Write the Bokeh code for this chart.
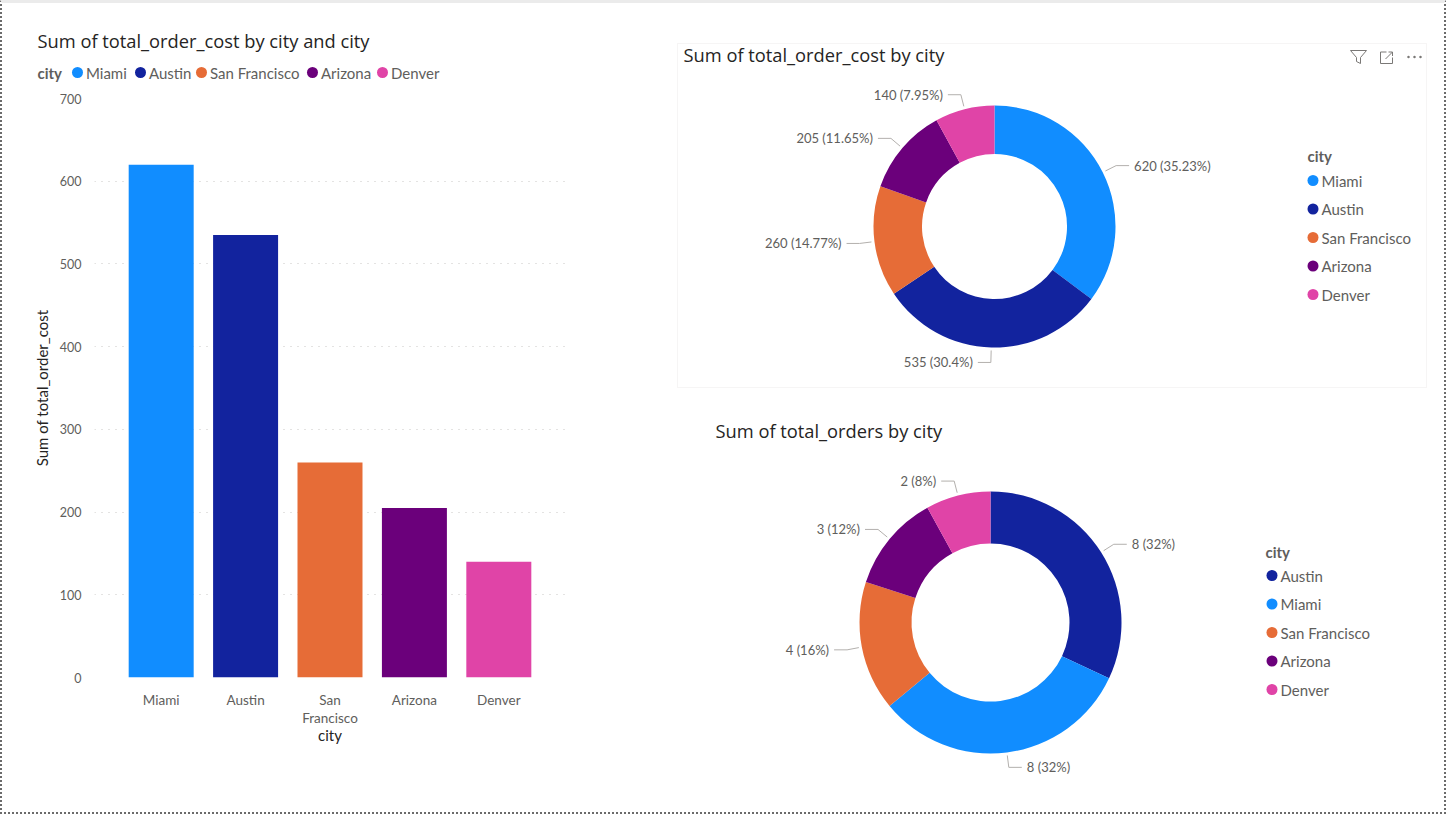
import math
from bokeh.plotting import figure
from bokeh.layouts import row, column
from bokeh.models import FactorRange, Range1d, ColumnDataSource, FixedTicker, BoxAnnotation
from bokeh.core.properties import value
from bokeh.embed import file_html
from bokeh.resources import INLINE

# ---------------- data ----------------
cities = ["Miami", "Austin", "San Francisco", "Arizona", "Denver"]
bar_tick_labels = ["Miami", "Austin", "San\nFrancisco", "Arizona", "Denver"]
order_cost = [620, 535, 260, 205, 140]
orders_cities = ["Austin", "Miami", "San Francisco", "Arizona", "Denver"]
orders = [8, 8, 4, 3, 2]
y_ticks = [0, 100, 200, 300, 400, 500, 600, 700]
city_colors = {"Miami": "#118DFF", "Austin": "#12239E", "San Francisco": "#E66C37",
               "Arizona": "#6B007B", "Denver": "#E044A7"}

# ---------------- style ----------------
TITLE_FONT = value("Open Sans")
BODY_FONT_NAME = "Lato"
BODY_FONT = value(BODY_FONT_NAME)
TITLE_SIZE = "18.3px"
DARK = "#252423"
GREY = "#605E5C"
LEADER = "#B3B0AD"
GRID = "#C8C6C4"

OX, OY = 2, 3          # page origin of content (inside border)
LW, RW = 640, 802
HEAD_H = 85
BAR_H = 724
TR_H = 397
BR_H = 412
FL, FR, FT, FB = 94, 565, 98, 677   # bar frame on the page


def canvas(w, h, x0, x1, y0, y1):
    p = figure(width=w, height=h, x_range=Range1d(x0, x1), y_range=Range1d(y0, y1),
               x_axis_type=None, y_axis_type=None, output_backend="svg",
               toolbar_location=None, min_border=0)
    p.min_border_left = p.min_border_right = p.min_border_top = p.min_border_bottom = 0
    p.outline_line_color = None
    p.background_fill_color = "white"
    p.border_fill_color = "white"
    return p


def legend_column(p, names, tx, ty, x_dot, y_first, step, conv):
    x, y = conv(tx, ty)
    p.text(x=[x], y=[y], text=["city"], text_font=BODY_FONT, text_font_size="15px",
           text_font_style="bold", text_color=GREY, text_baseline="middle", text_align="left")
    xs, ys, cs, txs = [], [], [], []
    for i, n in enumerate(names):
        dx, dy = conv(x_dot, y_first + i * step)
        xs.append(dx); ys.append(dy); cs.append(city_colors[n]); txs.append(dx + 8.5)
    p.scatter(x=xs, y=ys, size=11, marker="circle", fill_color=cs, line_color=None)
    p.text(x=txs, y=ys, text=list(names), text_font=BODY_FONT, text_font_size="15px",
           text_color=GREY, text_baseline="middle", text_align="left")


def donut(p, names, vals, R, r):
    total = float(sum(vals))
    starts, ends, mids, cols = [], [], [], []
    cum = 0.0
    for v, n in zip(vals, names):
        f0 = cum / total
        cum += v
        f1 = cum / total
        starts.append(math.pi / 2 - 2 * math.pi * f1)
        ends.append(math.pi / 2 - 2 * math.pi * f0)
        mids.append(2 * math.pi * (f0 + f1) / 2)
        cols.append(city_colors[n])
    src = ColumnDataSource(dict(start=starts, end=ends, color=cols, city=list(names)))
    p.annular_wedge(x=0, y=0, inner_radius=r, outer_radius=R, start_angle="start",
                    end_angle="end", direction="anticlock", fill_color="color",
                    line_color=None, source=src)
    lxs, lys, tx, ty, tt, ta = [], [], [], [], [], []
    for v, m in zip(vals, mids):
        sx, sy = math.sin(m), math.cos(m)
        sign = 1 if sx >= 0 else -1
        x0, y0 = (R + 3) * sx, (R + 3) * sy
        x1, y1 = (R + 15) * sx, (R + 15) * sy
        x2 = x1 + sign * 13
        lxs.append([x0, x1, x2]); lys.append([y0, y1, y1])
        tx.append(x2 + sign * 5); ty.append(y1)
        pct = round(100.0 * v / total, 2)
        tt.append(f"{v} ({pct:g}%)")
        ta.append("left" if sign > 0 else "right")
    p.multi_line(xs=lxs, ys=lys, line_color=LEADER, line_width=1)
    p.text(x=tx, y=ty, text=tt, text_align=ta, text_baseline="middle",
           text_font=BODY_FONT, text_font_size="13px", text_color=GREY)


# ---------------- left header (title + legend) ----------------
head = canvas(LW, HEAD_H, OX, OX + LW, OY + HEAD_H, OY)
head.text(x=[37], y=[40], text=["Sum of total_order_cost by city and city"], text_font=TITLE_FONT,
          text_font_size=TITLE_SIZE, text_color=DARK, text_baseline="middle", text_align="left")
head.text(x=[37], y=[72], text=["city"], text_font=BODY_FONT, text_font_size="15px",
          text_font_style="bold", text_color=GREY, text_baseline="middle", text_align="left")
legend_dot_x = [77, 140, 201, 312, 382]
head.scatter(x=legend_dot_x, y=[72] * len(cities), size=11, marker="circle",
             fill_color=[city_colors[c] for c in cities], line_color=None)
head.text(x=[d + 8.5 for d in legend_dot_x], y=[72] * len(cities), text=cities, text_font=BODY_FONT,
          text_font_size="15px", text_color=GREY, text_baseline="middle", text_align="left")

# ---------------- bar chart ----------------
bar_src = ColumnDataSource(dict(label=bar_tick_labels, city=cities, cost=order_cost,
                                color=[city_colors[c] for c in cities]))
bar = figure(width=LW, height=BAR_H, x_range=FactorRange(*bar_tick_labels, range_padding=0.116),
             y_range=Range1d(0, 700), output_backend="svg", toolbar_location=None,
             min_border_left=FL - OX, min_border_right=OX + LW - FR,
             min_border_top=FT - (OY + HEAD_H), min_border_bottom=OY + HEAD_H + BAR_H - FB)
bar.vbar(x="label", top="cost", width=0.77, fill_color="color", line_color=None, source=bar_src)
bar.outline_line_color = None
bar.xgrid.grid_line_color = None
bar.ygrid.grid_line_color = GRID
bar.ygrid.grid_line_dash = "1 6"
bar.ygrid.ticker = FixedTicker(ticks=y_ticks)
bar.yaxis.ticker = FixedTicker(ticks=y_ticks)
for ax in (bar.xaxis[0], bar.yaxis[0]):
    ax.axis_line_color = None
    ax.major_tick_line_color = None
    ax.minor_tick_line_color = None
    ax.major_label_text_font = BODY_FONT_NAME
    ax.major_label_text_color = GREY
    ax.axis_label_text_font = BODY_FONT_NAME
    ax.axis_label_text_font_style = "normal"
    ax.axis_label_text_color = DARK
bar.yaxis.major_label_text_font_size = "12.5px"
bar.yaxis.major_label_standoff = 7
bar.yaxis.axis_label = "Sum of total_order_cost"
bar.yaxis.axis_label_text_font_size = "15px"
bar.yaxis.axis_label_standoff = 6
bar.xaxis.major_label_text_font_size = "13.5px"
bar.xaxis.major_label_text_line_height = 1.14
bar.xaxis.major_label_standoff = 8
bar.xaxis.axis_label = "city"
bar.xaxis.axis_label_text_font_size = "15px"
bar.xaxis.axis_label_standoff = -3

left = column(column(head), bar)

# ---------------- top-right donut ----------------
CX1, CY1 = 994, 226
tr = canvas(RW, TR_H, OX + LW - CX1, OX + LW + RW - CX1, CY1 - (OY + TR_H), CY1 - OY)
conv1 = lambda x, y: (x - CX1, CY1 - y)
bx0, by0 = conv1(677, 43)
bx1, by1 = conv1(1426, 387)
tr.add_layout(BoxAnnotation(left=bx0, right=bx1, top=by0, bottom=by1, fill_color=None,
                            line_color="#E1DFDD", line_width=1))
t1x, t1y = conv1(683, 53.5)
tr.text(x=[t1x], y=[t1y], text=["Sum of total_order_cost by city"], text_font=TITLE_FONT,
        text_font_size=TITLE_SIZE, text_color=DARK, text_baseline="middle", text_align="left")
donut(tr, cities, order_cost, 121, 72.5)
legend_column(tr, cities, 1307, 155, 1312.5, 180, 28.5, conv1)
# header icons (filter, focus mode, more options)
ICON = "#7A7876"
fx = [1350, 1366, 1360, 1360, 1356, 1356, 1350]
fy = [50, 50, 57, 63, 61, 57, 50]
tr.line(x=[conv1(a, b)[0] for a, b in zip(fx, fy)], y=[conv1(a, b)[1] for a, b in zip(fx, fy)],
        line_color=ICON, line_width=1)
ex = [1386, 1380, 1380, 1392, 1392]
ey = [51.5, 51.5, 63, 63, 57]
tr.line(x=[conv1(a, b)[0] for a, b in zip(ex, ey)], y=[conv1(a, b)[1] for a, b in zip(ex, ey)],
        line_color=ICON, line_width=1)
ax_ = [[1385, 1392], [1388, 1392, 1392]]
ay_ = [[58.5, 51.5], [51.5, 51.5, 55.5]]
tr.multi_line(xs=[[conv1(a, 0)[0] for a in xx] for xx in ax_],
              ys=[[conv1(0, b)[1] for b in yy] for yy in ay_], line_color=ICON, line_width=1)
dots = [conv1(1408, 56.5), conv1(1414, 56.5), conv1(1420, 56.5)]
tr.scatter(x=[d[0] for d in dots], y=[d[1] for d in dots], size=2.5, marker="circle",
           fill_color=ICON, line_color=None)

# ---------------- bottom-right donut ----------------
CX2, CY2 = 990, 622
y_top2 = OY + TR_H
br = canvas(RW, BR_H, OX + LW - CX2, OX + LW + RW - CX2, CY2 - (y_top2 + BR_H), CY2 - y_top2)
conv2 = lambda x, y: (x - CX2, CY2 - y)
t2x, t2y = conv2(715, 429.5)
br.text(x=[t2x], y=[t2y], text=["Sum of total_orders by city"], text_font=TITLE_FONT,
        text_font_size=TITLE_SIZE, text_color=DARK, text_baseline="middle", text_align="left")
donut(br, orders_cities, orders, 131, 79)
legend_column(br, orders_cities, 1265, 551, 1271.5, 575, 28.5, conv2)

right = column(tr, br)

page = row(left, right, styles={
    "border-left": "2px dotted #6B6B6B",
    "border-right": "2px dotted #6B6B6B",
    "border-bottom": "2px dotted #6B6B6B",
    "border-top": "3px solid #EBEBEB",
})

open("out.html", "w").write(file_html(page, INLINE))
